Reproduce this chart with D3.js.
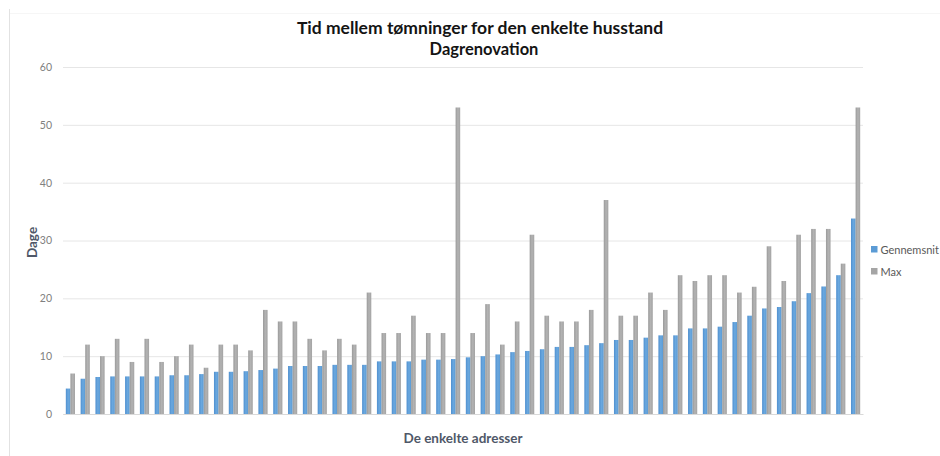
<!DOCTYPE html>
<html>
<head>
<meta charset="utf-8">
<script src="https://cdn.jsdelivr.net/npm/d3@7"></script>
<style>
  html, body { margin: 0; padding: 0; background: #ffffff; }
  svg { display: block; }
</style>
</head>
<body>
<svg id="chart" width="940" height="456"></svg>
<script>
// Average and maximum number of days between collections, one pair per address
const addresses = d3.range(1, 55).map(i => "Adresse " + i);
const gennemsnit = [
  4.4, 6.1, 6.4, 6.5, 6.5, 6.5, 6.5, 6.7, 6.7, 6.9,
  7.3, 7.3, 7.4, 7.6, 7.85, 8.3, 8.3, 8.3, 8.5, 8.5,
  8.5, 9.1, 9.1, 9.1, 9.4, 9.4, 9.5, 9.8, 10.0, 10.3,
  10.7, 10.9, 11.2, 11.6, 11.6, 11.9, 12.25, 12.8, 12.8, 13.2,
  13.6, 13.6, 14.8, 14.8, 15.1, 15.9, 17.0, 18.25, 18.5, 19.5,
  20.9, 22.05, 24.0, 33.8
];
const maks = [
  7, 12, 10, 13, 9, 13, 9, 10, 12, 8,
  12, 12, 11, 18, 16, 16, 13, 11, 13, 12,
  21, 14, 14, 17, 14, 14, 53, 14, 19, 12,
  16, 31, 17, 16, 16, 18, 37, 17, 17, 21,
  18, 24, 23, 24, 24, 21, 22, 29, 23, 31,
  32, 32, 26, 53
];
const seriesNames = ["Gennemsnit", "Max"];
const yTicks = [0, 10, 20, 30, 40, 50, 60];

const seriesColors = { "Gennemsnit": "#5b9bd5", "Max": "#a5a5a5" };
const font = "Lato, 'Open Sans', 'DejaVu Sans', sans-serif";

const svg = d3.select("#chart");
const margin = { left: 63, right: 77, top: 67, bottom: 42 };
const W = 940, H = 456;

// Frame of the chart area
svg.append("line").attr("x1", 9.5).attr("x2", 9.5).attr("y1", 9).attr("y2", H)
  .attr("stroke", "#e2e2e2").attr("stroke-width", 1);
svg.append("line").attr("x1", 10).attr("x2", W).attr("y1", 13.5).attr("y2", 13.5)
  .attr("stroke", "#f6f6f6").attr("stroke-width", 1);

const x0 = d3.scaleBand().domain(addresses).range([margin.left, W - margin.right])
  .paddingInner(0.38).paddingOuter(0.19);
const x1 = d3.scaleBand().domain(seriesNames).range([0, x0.bandwidth()]).padding(0);
const y = d3.scaleLinear().domain([0, 60]).range([H - margin.bottom, margin.top]);

// Subtle horizontal shading on the bars
const defs = svg.append("defs");
[["gradBlue", "#4f8fcf", "#6aa8df", "#5b9bd5"], ["gradGray", "#9a9a9a", "#b3b3b3", "#a3a3a3"]]
  .forEach(([id, a, b, c]) => {
    const g = defs.append("linearGradient").attr("id", id)
      .attr("x1", "0%").attr("x2", "100%").attr("y1", "0%").attr("y2", "0%");
    g.append("stop").attr("offset", "0%").attr("stop-color", a);
    g.append("stop").attr("offset", "50%").attr("stop-color", b);
    g.append("stop").attr("offset", "100%").attr("stop-color", c);
  });
const fillFor = { "Gennemsnit": "url(#gradBlue)", "Max": "url(#gradGray)" };

// Gridlines and y tick labels
const yAxis = d3.axisLeft(y).tickValues(yTicks).tickSize(-(W - margin.left - margin.right)).tickPadding(11);
const gy = svg.append("g").attr("transform", `translate(${margin.left},0)`).call(yAxis);
gy.select(".domain").remove();
gy.selectAll(".tick line").attr("stroke", "#e6e6e6").attr("stroke-width", 1);
gy.selectAll(".tick text").attr("fill", "#808080").attr("font-size", 10.5).attr("font-family", font);

// Bars
const rows = addresses.map((a, i) => ({ a, vals: [["Gennemsnit", gennemsnit[i]], ["Max", maks[i]]] }));
const grp = svg.append("g").selectAll("g").data(rows).join("g")
  .attr("transform", d => `translate(${x0(d.a)},0)`);
grp.selectAll("rect").data(d => d.vals).join("rect")
  .attr("x", d => x1(d[0]))
  .attr("width", x1.bandwidth())
  .attr("y", d => y(d[1]))
  .attr("height", d => y(0) - y(d[1]))
  .attr("fill", d => fillFor[d[0]]);

// Category axis baseline
const xAxis = d3.axisBottom(x0).tickSize(0).tickFormat("");
const gx = svg.append("g").attr("transform", `translate(0,${y(0)})`).call(xAxis);
gx.select(".domain").attr("stroke", "#d9d9d9");

// Titles
const title = svg.append("text").attr("x", 480).attr("text-anchor", "middle")
  .attr("font-family", font).attr("font-weight", "bold").attr("font-size", 17.5).attr("fill", "#141414");
title.append("tspan").attr("x", 480).attr("y", 34).text("Tid mellem tømninger for den enkelte husstand");
title.append("tspan").attr("x", 484).attr("y", 55).attr("font-size", 16.5).text("Dagrenovation");

svg.append("text")
  .attr("transform", `translate(37,${(y(0) + y(60)) / 2 + 2}) rotate(-90)`)
  .attr("text-anchor", "middle").attr("font-family", font).attr("font-weight", "bold")
  .attr("font-size", 13.5).attr("fill", "#4f5868").text("Dage");

svg.append("text")
  .attr("x", (margin.left + W - margin.right) / 2).attr("y", 443)
  .attr("text-anchor", "middle").attr("font-family", font).attr("font-weight", "bold")
  .attr("font-size", 13.5).attr("fill", "#4f5868").text("De enkelte adresser");

// Legend
const legend = svg.append("g").attr("transform", "translate(871,246)");
seriesNames.forEach((name, i) => {
  const row = legend.append("g").attr("transform", `translate(0,${i * 22})`);
  row.append("rect").attr("width", 6.5).attr("height", 6.5).attr("fill", seriesColors[name]);
  row.append("text").attr("x", 9.5).attr("y", 7.5).attr("font-family", font)
    .attr("font-size", 11).attr("fill", "#595959").text(name);
});
</script>
</body>
</html>
